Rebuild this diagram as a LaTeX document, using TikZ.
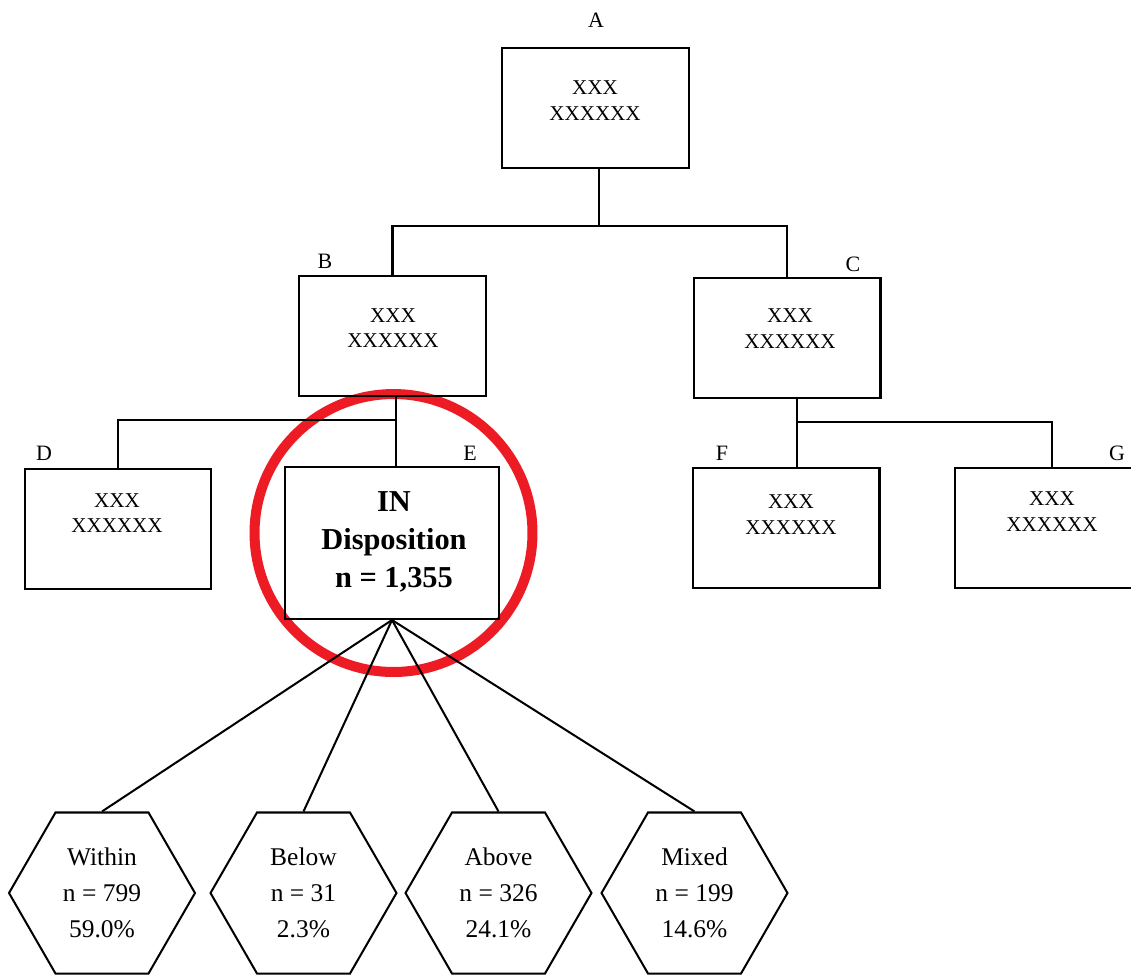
\documentclass[tikz,border=0pt]{standalone}
\usepackage{fontspec}
\setmainfont{Liberation Serif}
\usetikzlibrary{shapes.geometric}
\definecolor{ringred}{RGB}{237,28,36}

\begin{document}
\begin{tikzpicture}[x=0.02cm, y=-0.02cm, line width=1.15pt,
  box/.style={draw, rectangle, minimum width=3.74cm, minimum height=2.4cm},
  boxtext/.style={align=center, font=\fontsize{12}{14.7}\selectfont},
  tag/.style={font=\fontsize{12.5}{14}\selectfont},
  hexa/.style={draw, regular polygon, regular polygon sides=6, minimum size=3.72cm, inner sep=0pt, align=center, font=\fontsize{14.5}{20.4}\selectfont},
  ring/.style={draw=ringred, line width=0.2cm, circle, minimum size=5.56cm}]
\useasboundingbox (0,0) rectangle (1131,975);

\node[ring] (ring) at (393.5,533) {};

\node[box] (a) at (595.5,108) {};
\node[box] (b) at (392.5,336) {};
\node[box] (c) at (787,338) {};
\node[box] (d) at (118,529) {};
\node[box, minimum width=4.28cm, minimum height=3.04cm] (e) at (392,543) {};
\node[box] (f) at (786,528) {};
\node[box, minimum width=3.88cm] (g) at (1052,528) {};

\node[boxtext] (atext) at (595,101) {XXX\\XXXXXX};
\node[boxtext] (btext) at (393,328) {XXX\\XXXXXX};
\node[boxtext] (ctext) at (790,328.5) {XXX\\XXXXXX};
\node[boxtext] (dtext) at (117,513) {XXX\\XXXXXX};
\node[boxtext] (ftext) at (791,514.5) {XXX\\XXXXXX};
\node[boxtext] (gtext) at (1052,511.5) {XXX\\XXXXXX};
\node[align=center, font=\bfseries\fontsize{17.3}{21.5}\selectfont] (etext) at (394,542) {IN\\Disposition\\n = 1,355};

\node[tag] (la) at (596,20) {A};
\node[tag] (lb) at (325,261) {B};
\node[tag] (lc) at (853,264) {C};
\node[tag] (ld) at (44,453) {D};
\node[tag] (le) at (470,453) {E};
\node[tag] (lf) at (722,453) {F};
\node[tag] (lg) at (1117,453) {G};

\coordinate (ja) at (599,226);
\coordinate (jb) at (396,420);
\coordinate (jc) at (797,422);
\draw (a.south -| ja) -- (ja);
\draw (b.north) |- (ja) -| (c.north);
\draw (b.south -| jb) -- (e.north -| jb);
\draw (jb) -| (d.north);
\draw (c.south -| jc) -- (f.north -| jc);
\draw (jc) -| (g.north);

\node[hexa] (within) at (102,893) {Within\\n = 799\\59.0\%};
\node[hexa] (below) at (303.5,893) {Below\\n = 31\\2.3\%};
\node[hexa] (above) at (498.5,893) {Above\\n = 326\\24.1\%};
\node[hexa] (mixed) at (694.5,893) {Mixed\\n = 199\\14.6\%};

\foreach \h in {within,below,above,mixed}
  \draw (e.south) -- (\h.north);

\end{tikzpicture}
\end{document}
